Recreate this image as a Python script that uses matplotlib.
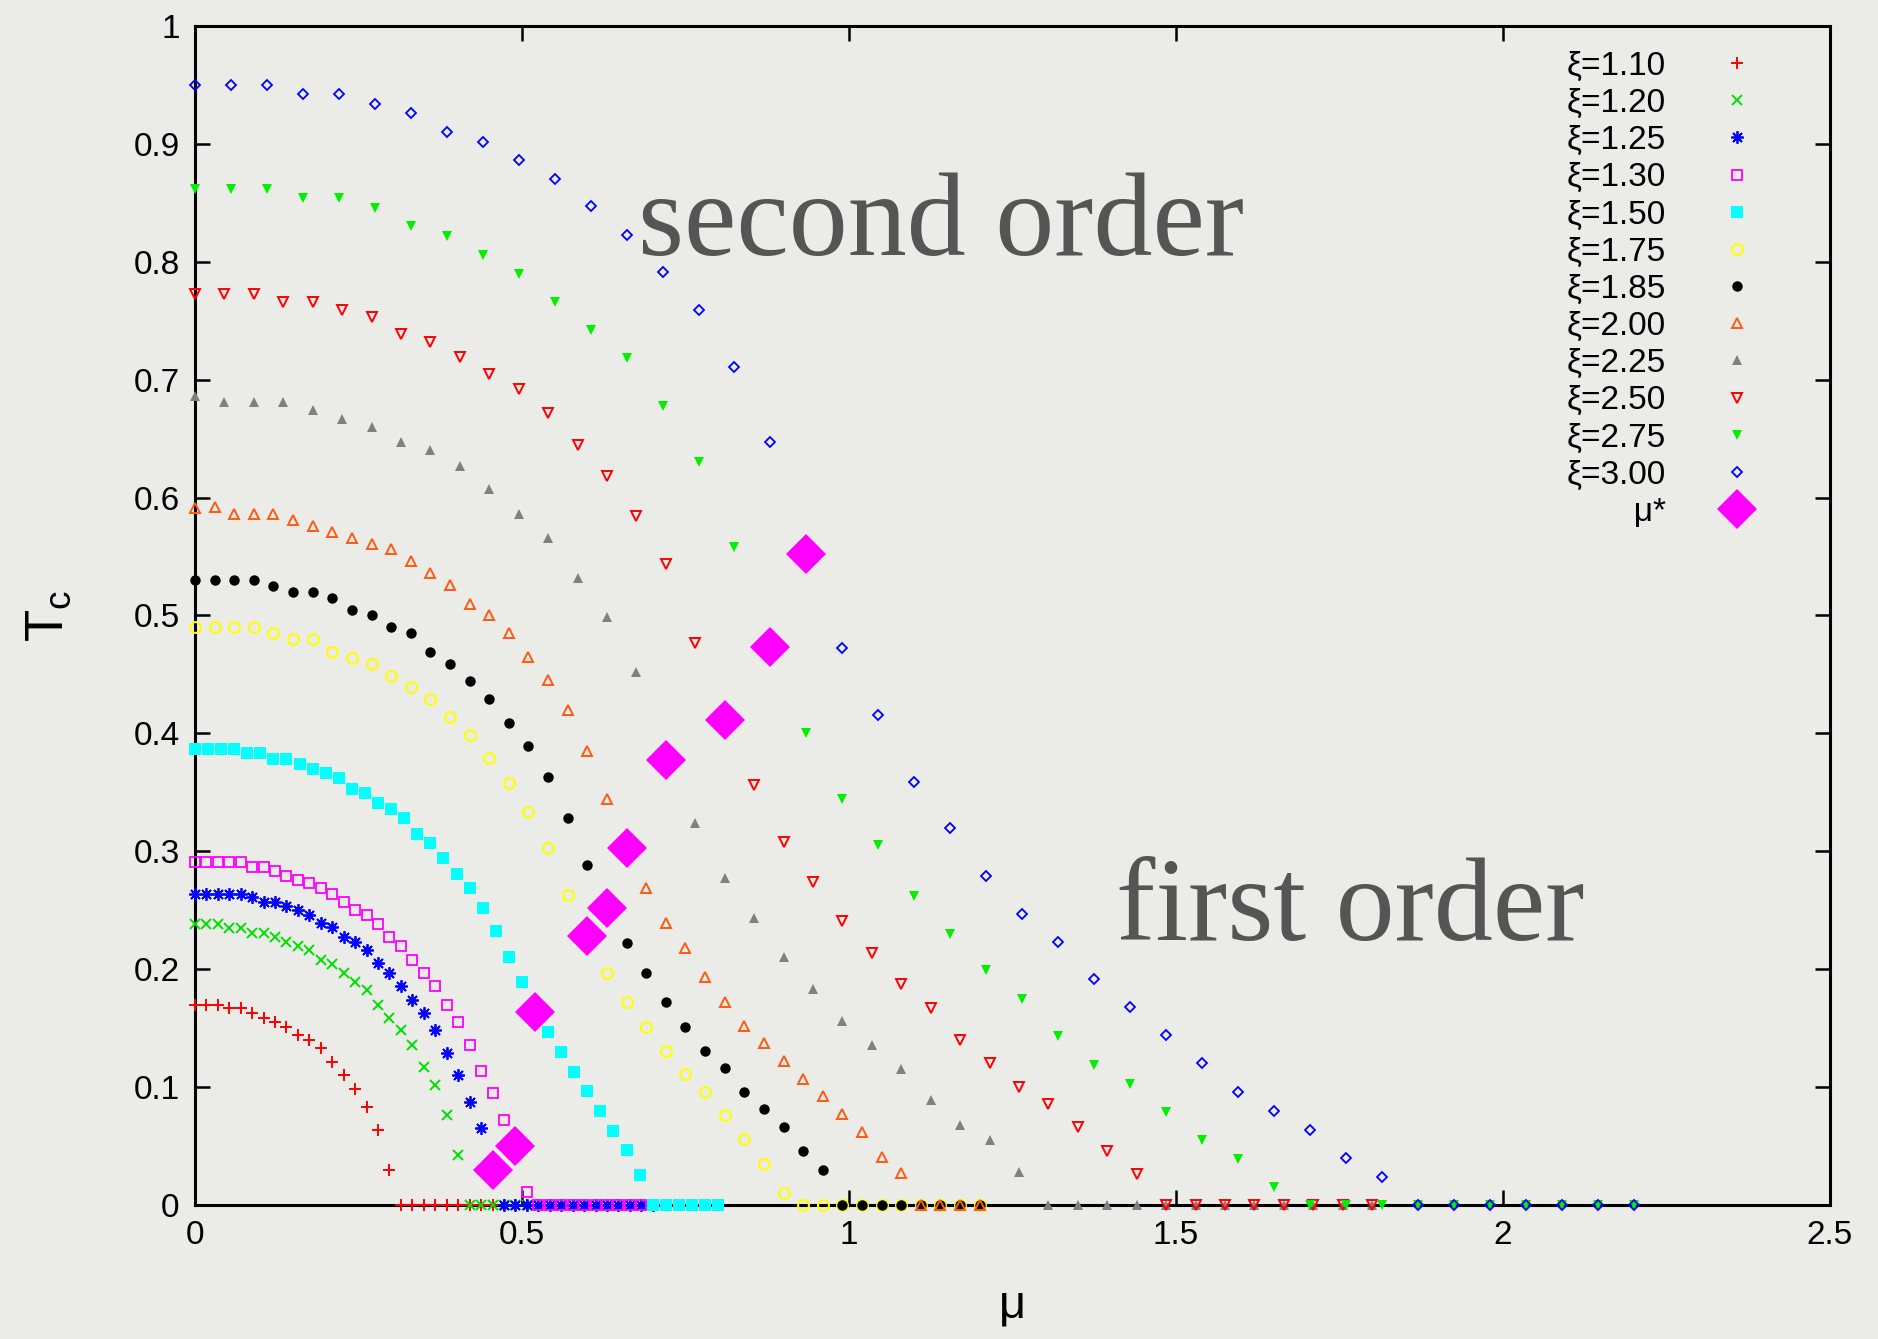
import matplotlib
matplotlib.use("Agg")
import matplotlib.pyplot as plt
from matplotlib.ticker import FormatStrFormatter
import numpy as np

plt.rcParams['font.family'] = ['Liberation Sans', 'DejaVu Sans']

# mu grids (each xi series was computed on 41 points)
mu_a = [0.0, 0.0175, 0.035, 0.0525, 0.07, 0.0875, 0.105, 0.1225, 0.14, 0.1575,
        0.175, 0.1925, 0.21, 0.2275, 0.245, 0.2625, 0.28, 0.2975, 0.315, 0.3325,
        0.35, 0.3675, 0.385, 0.4025, 0.42, 0.4375, 0.455, 0.4725, 0.49, 0.5075,
        0.525, 0.5425, 0.56, 0.5775, 0.595, 0.6125, 0.63, 0.6475, 0.665, 0.6825, 0.7]
mu_b = [0.0, 0.02, 0.04, 0.06, 0.08, 0.10, 0.12, 0.14, 0.16, 0.18,
        0.20, 0.22, 0.24, 0.26, 0.28, 0.30, 0.32, 0.34, 0.36, 0.38,
        0.40, 0.42, 0.44, 0.46, 0.48, 0.50, 0.52, 0.54, 0.56, 0.58,
        0.60, 0.62, 0.64, 0.66, 0.68, 0.70, 0.72, 0.74, 0.76, 0.78, 0.80]
mu_c = [0.0, 0.03, 0.06, 0.09, 0.12, 0.15, 0.18, 0.21, 0.24, 0.27,
        0.30, 0.33, 0.36, 0.39, 0.42, 0.45, 0.48, 0.51, 0.54, 0.57,
        0.60, 0.63, 0.66, 0.69, 0.72, 0.75, 0.78, 0.81, 0.84, 0.87,
        0.90, 0.93, 0.96, 0.99, 1.02, 1.05, 1.08, 1.11, 1.14, 1.17, 1.20]
mu_d = [0.0, 0.045, 0.09, 0.135, 0.18, 0.225, 0.27, 0.315, 0.36, 0.405,
        0.45, 0.495, 0.54, 0.585, 0.63, 0.675, 0.72, 0.765, 0.81, 0.855,
        0.90, 0.945, 0.99, 1.035, 1.08, 1.125, 1.17, 1.215, 1.26, 1.305,
        1.35, 1.395, 1.44, 1.485, 1.53, 1.575, 1.62, 1.665, 1.71, 1.755, 1.80]
mu_e = [0.0, 0.055, 0.11, 0.165, 0.22, 0.275, 0.33, 0.385, 0.44, 0.495,
        0.55, 0.605, 0.66, 0.715, 0.77, 0.825, 0.88, 0.935, 0.99, 1.045,
        1.10, 1.155, 1.21, 1.265, 1.32, 1.375, 1.43, 1.485, 1.54, 1.595,
        1.65, 1.705, 1.76, 1.815, 1.87, 1.925, 1.98, 2.035, 2.09, 2.145, 2.20]

# Tc values (None = point hidden under a mu* marker)
tc_110 = [0.170, 0.170, 0.170, 0.167, 0.167, 0.163, 0.159, 0.155, 0.151, 0.144,
          0.140, 0.133, 0.121, 0.110, 0.098, 0.083, 0.064, 0.030, 0, 0,
          0, 0, 0, 0, 0, 0, 0, 0, 0, 0,
          0, 0, 0, 0, 0, 0, 0, 0, 0, 0, 0]
tc_120 = [0.238, 0.238, 0.238, 0.235, 0.235, 0.231, 0.231, 0.227, 0.223, 0.220,
          0.216, 0.208, 0.204, 0.197, 0.189, 0.182, 0.170, 0.159, 0.148, 0.136,
          0.117, 0.102, 0.076, 0.042, 0, 0, 0, 0, 0, 0,
          0, 0, 0, 0, 0, 0, 0, 0, 0, 0, 0]
tc_125 = [0.264, 0.264, 0.264, 0.264, 0.264, 0.261, 0.257, 0.257, 0.254, 0.250,
          0.246, 0.239, 0.236, 0.227, 0.223, 0.216, 0.205, 0.197, 0.186, 0.174,
          0.163, 0.148, 0.129, 0.110, 0.087, 0.065, None, 0, 0, 0,
          0, 0, 0, 0, 0, 0, 0, 0, 0, 0, 0]
tc_130 = [0.291, 0.291, 0.291, 0.291, 0.291, 0.287, 0.287, 0.283, 0.279, 0.276,
          0.273, 0.269, 0.264, 0.257, 0.250, 0.246, 0.238, 0.227, 0.220, 0.208,
          0.197, 0.186, 0.170, 0.155, 0.136, 0.114, 0.095, 0.072, None, 0.011,
          0, 0, 0, 0, 0, 0, 0, 0, 0, 0, 0]
tc_150 = [0.387, 0.387, 0.387, 0.387, 0.383, 0.383, 0.378, 0.378, 0.374, 0.370,
          0.366, 0.362, 0.353, 0.349, 0.341, 0.336, 0.328, 0.315, 0.307, 0.294,
          0.281, 0.269, 0.252, 0.232, 0.210, 0.189, None, 0.147, 0.130, 0.113,
          0.097, 0.080, 0.063, 0.047, 0.025, 0, 0, 0, 0, 0, 0]
tc_175 = [0.490, 0.490, 0.490, 0.490, 0.485, 0.480, 0.480, 0.469, 0.464, 0.459,
          0.449, 0.439, 0.429, 0.414, 0.399, 0.379, 0.358, 0.333, 0.303, 0.263,
          None, 0.197, 0.172, 0.151, 0.131, 0.111, 0.096, 0.076, 0.056, 0.035,
          0.010, 0, 0, 0, 0, 0, 0, 0, 0, 0, 0]
tc_185 = [0.530, 0.530, 0.530, 0.530, 0.525, 0.520, 0.520, 0.515, 0.505, 0.500,
          0.490, 0.485, 0.469, 0.459, 0.444, 0.429, 0.409, 0.389, 0.363, 0.328,
          0.288, None, 0.222, 0.197, 0.172, 0.151, 0.131, 0.116, 0.096, 0.081,
          0.066, 0.046, 0.030, 0, 0, 0, 0, 0, 0, 0, 0]
tc_200 = [0.591, 0.592, 0.586, 0.586, 0.586, 0.581, 0.576, 0.571, 0.566, 0.561,
          0.556, 0.546, 0.536, 0.526, 0.510, 0.500, 0.485, 0.465, 0.445, 0.420,
          0.385, 0.344, None, 0.269, 0.239, 0.218, 0.193, 0.172, 0.152, 0.137,
          0.122, 0.107, 0.092, 0.077, 0.062, 0.041, 0.027, 0, 0, 0, 0]
tc_225 = [0.686, 0.681, 0.681, 0.681, 0.674, 0.667, 0.660, 0.647, 0.640, 0.627,
          0.607, 0.586, 0.566, 0.532, 0.499, 0.452, None, 0.324, 0.277, 0.243,
          0.210, 0.183, 0.156, 0.136, 0.115, 0.089, 0.068, 0.055, 0.028, 0,
          0, 0, 0, 0, 0, 0, 0, 0, 0, 0, 0]
tc_250 = [0.773, 0.773, 0.773, 0.766, 0.766, 0.759, 0.753, 0.739, 0.732, 0.719,
          0.705, 0.692, 0.672, 0.645, 0.618, 0.584, 0.544, 0.477, None, 0.356,
          0.308, 0.274, 0.241, 0.214, 0.187, 0.167, 0.140, 0.120, 0.100, 0.086,
          0.066, 0.046, 0.026, 0, 0, 0, 0, 0, 0, 0, 0]
tc_275 = [0.862, 0.862, 0.862, 0.854, 0.854, 0.846, 0.830, 0.822, 0.806, 0.790,
          0.766, 0.742, 0.718, 0.678, 0.630, 0.558, None, 0.400, 0.344, 0.305,
          0.262, 0.230, 0.199, 0.175, 0.143, 0.119, 0.103, 0.079, 0.055, 0.039,
          0.015, 0, 0, 0, 0, 0, 0, 0, 0, 0, 0]
tc_300 = [0.950, 0.950, 0.950, 0.942, 0.942, 0.934, 0.926, 0.910, 0.902, 0.886,
          0.870, 0.847, 0.823, 0.791, 0.759, 0.711, 0.647, None, 0.472, 0.416,
          0.359, 0.320, 0.279, 0.247, 0.223, 0.192, 0.168, 0.144, 0.120, 0.096,
          0.080, 0.064, 0.040, 0.024, 0, 0, 0, 0, 0, 0, 0]

# tricritical points mu*
mu_star = [0.455, 0.49, 0.52, 0.60, 0.63, 0.66, 0.72, 0.81, 0.88, 0.935]
tc_star = [0.030, 0.050, 0.164, 0.228, 0.252, 0.303, 0.377, 0.411, 0.473, 0.552]

labels = ['ξ=1.10', 'ξ=1.20', 'ξ=1.25', 'ξ=1.30', 'ξ=1.50', 'ξ=1.75',
          'ξ=1.85', 'ξ=2.00', 'ξ=2.25', 'ξ=2.50', 'ξ=2.75', 'ξ=3.00']
grids = [mu_a, mu_a, mu_a, mu_a, mu_b, mu_c, mu_c, mu_c, mu_d, mu_d, mu_e, mu_e]
values = [tc_110, tc_120, tc_125, tc_130, tc_150, tc_175,
          tc_185, tc_200, tc_225, tc_250, tc_275, tc_300]
styles = [
    dict(marker='+', color='#ff0000', ms=8, mew=1.4),
    dict(marker='x', color='#00e000', ms=7, mew=1.4),
    dict(marker=(8, 2, 0), color='#0000ff', ms=9, mew=1.3),
    dict(marker='s', color='#ff00ff', mfc='none', ms=7.8, mew=1.3),
    dict(marker='s', color='#00ffff', ms=8, mew=0),
    dict(marker='o', color='#ffff00', mfc='none', ms=7.8, mew=1.5),
    dict(marker='o', color='#000000', ms=7.5, mew=0),
    dict(marker='^', color='#ff5a14', mfc='none', ms=7.5, mew=1.4),
    dict(marker='^', color='#808080', ms=6.5, mew=0),
    dict(marker='v', color='#ff0000', mfc='none', ms=7.5, mew=1.4),
    dict(marker='v', color='#00f000', ms=6.5, mew=0),
    dict(marker='D', color='#0000ff', mfc='none', ms=5.2, mew=1.3),
]

bg = '#ebebe7'
fig = plt.figure(figsize=(18.78, 13.39), dpi=100, facecolor=bg)
ax = fig.add_axes([0.1038, 0.1001, 0.8706, 0.8805], facecolor=bg)

for lab, mu, tc, st in zip(labels, grids, values, styles):
    ax.plot(mu, np.array(tc, dtype=float), linestyle='none', label=lab,
            clip_on=False, zorder=3, **st)

ax.plot(mu_star, tc_star, linestyle='none', marker='D', color='#ff00ff',
        ms=20.5, mew=0, label='       μ*', clip_on=False, zorder=4)

ax.set_xlim(0, 2.5)
ax.set_ylim(0, 1)
ax.set_xticks([0, 0.5, 1, 1.5, 2, 2.5])
ax.set_yticks([0, 0.1, 0.2, 0.3, 0.4, 0.5, 0.6, 0.7, 0.8, 0.9, 1.0])
ax.xaxis.set_major_formatter(FormatStrFormatter('%g'))
ax.yaxis.set_major_formatter(FormatStrFormatter('%g'))
ax.tick_params(direction='in', length=11, width=1.8, top=True, right=True,
               labelsize=24, pad=11)
for sp in ax.spines.values():
    sp.set_linewidth(2.2)

ax.set_xlabel('μ', fontsize=34)
ax.xaxis.set_label_coords(0.5, -0.067)
ax.set_ylabel(r'$\mathregular{T_c}$', fontsize=38)
ax.yaxis.set_label_coords(-0.074, 0.5)

ax.text(0.677, 0.806, 'second order', family='Liberation Serif', fontsize=85,
        color='#555555', ha='left', va='baseline')
ax.text(1.408, 0.225, 'first order', family='Liberation Serif', fontsize=85,
        color='#555555', ha='left', va='baseline')

ax.legend(loc='upper right', bbox_to_anchor=(0.9535, 0.979), frameon=False,
          markerfirst=False, fontsize=24, handlelength=1.0, handletextpad=1.65,
          labelspacing=0.185, borderpad=0, borderaxespad=0, numpoints=1)

fig.savefig('out.png', dpi=100, facecolor=bg)
